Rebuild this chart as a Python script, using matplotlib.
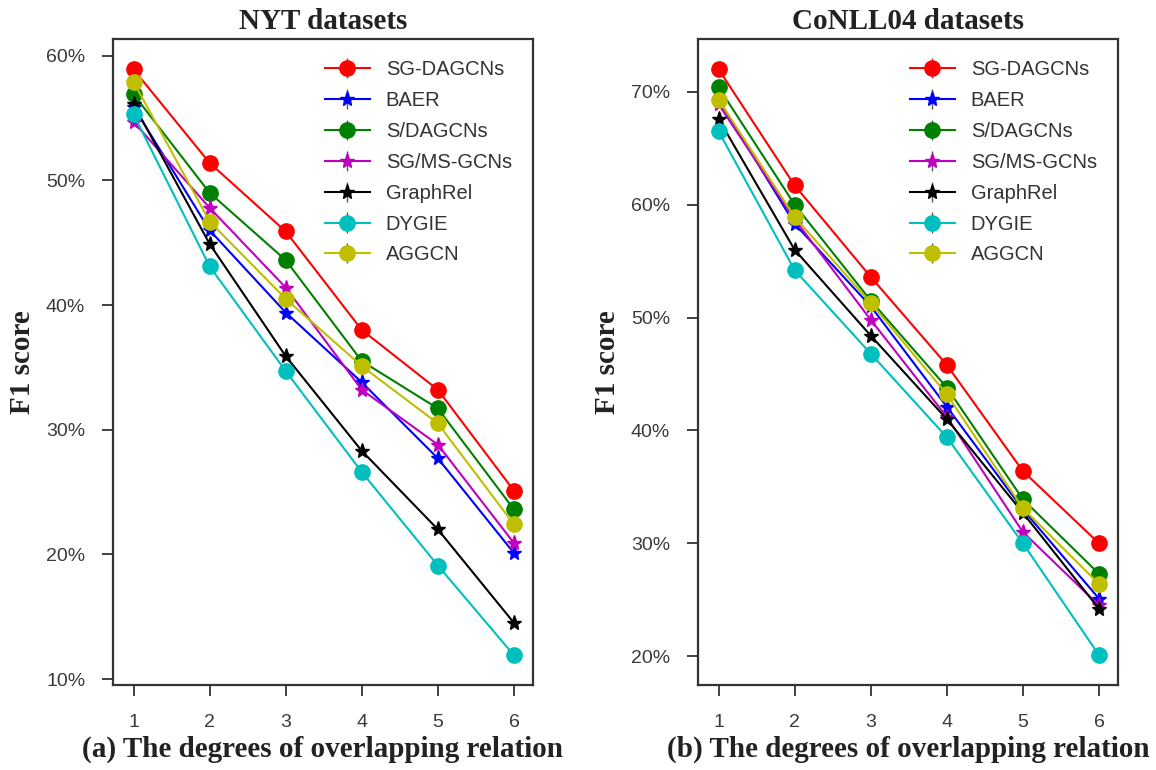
import matplotlib
matplotlib.use("Agg")
import matplotlib.pyplot as plt
from matplotlib.ticker import FuncFormatter

x = [1, 2, 3, 4, 5, 6]
methods = ["SG-DAGCNs", "BAER", "S/DAGCNs", "SG/MS-GCNs", "GraphRel", "DYGIE", "AGGCN"]
colors = ["r", "b", "g", "m", "k", "c", "y"]
markers = ["o", "*", "o", "*", "*", "o", "o"]

nyt_sg_dagcns = [58.9, 51.4, 45.9, 38.0, 33.2, 25.1]
nyt_baer = [55.9, 46.0, 39.4, 33.8, 27.7, 20.1]
nyt_s_dagcns = [56.9, 49.0, 43.6, 35.5, 31.7, 23.6]
nyt_sg_ms_gcns = [54.7, 47.8, 41.4, 33.2, 28.8, 20.9]
nyt_graphrel = [56.1, 44.9, 35.9, 28.3, 22.0, 14.5]
nyt_dygie = [55.3, 43.1, 34.7, 26.6, 19.1, 11.9]
nyt_aggcn = [57.9, 46.7, 40.5, 35.1, 30.5, 22.4]

conll_sg_dagcns = [72.0, 61.7, 53.6, 45.8, 36.4, 30.0]
conll_baer = [69.3, 58.3, 51.0, 42.1, 33.0, 25.1]
conll_s_dagcns = [70.4, 60.0, 51.5, 43.8, 33.9, 27.3]
conll_sg_ms_gcns = [68.9, 58.7, 49.8, 41.2, 31.0, 24.5]
conll_graphrel = [67.6, 56.0, 48.4, 41.0, 32.7, 24.2]
conll_dygie = [66.5, 54.2, 46.8, 39.4, 30.0, 20.1]
conll_aggcn = [69.3, 58.9, 51.3, 43.2, 33.1, 26.4]

nyt = [nyt_sg_dagcns, nyt_baer, nyt_s_dagcns, nyt_sg_ms_gcns, nyt_graphrel, nyt_dygie, nyt_aggcn]
conll = [conll_sg_dagcns, conll_baer, conll_s_dagcns, conll_sg_ms_gcns, conll_graphrel, conll_dygie, conll_aggcn]

nyt_yticks = [10, 20, 30, 40, 50, 60]
conll_yticks = [20, 30, 40, 50, 60, 70]

fig = plt.figure(figsize=(11.56, 7.70), dpi=100)
ax1 = fig.add_axes([113/1156, 85/770, 420/1156, 646/770])
ax2 = fig.add_axes([698/1156, 85/770, 420/1156, 646/770])

serif = ["Liberation Serif", "DejaVu Serif"]
sans = ["Liberation Sans", "DejaVu Sans"]
spine_col = "#333333"

def draw(ax, data, yticks, ylim, title, xlabel):
    for vals, lab, c, m in zip(data, methods, colors, markers):
        ax.errorbar(x, vals, yerr=[0]*len(vals), color=c, marker=m, markersize=11,
                    linewidth=1.5, ecolor="0.35", elinewidth=1.0, capsize=0, label=lab)
    ax.set_xlim(0.73, 6.25)
    ax.set_ylim(*ylim)
    ax.set_xticks(x)
    ax.set_yticks(yticks)
    ax.yaxis.set_major_formatter(FuncFormatter(lambda v, p: f"{int(round(v))}%"))
    for s in ax.spines.values():
        s.set_color(spine_col)
        s.set_linewidth(1.6)
    ax.tick_params(axis="both", direction="out", length=8, width=1.3, color=spine_col,
                   labelcolor="#3a3a3a", labelsize=14)
    ax.tick_params(axis="y", pad=12)
    ax.tick_params(axis="x", pad=13)
    for lbl in ax.get_xticklabels() + ax.get_yticklabels():
        lbl.set_family(sans)
    ax.set_title(title, fontsize=21, fontweight="bold", family=serif, color="#222222", pad=7)
    ax.set_xlabel(xlabel, fontsize=21, fontweight="bold", family=serif, color="#222222", labelpad=3)
    ax.set_ylabel("F1 score", fontsize=21, fontweight="bold", family=serif, color="#222222", labelpad=7)
    leg = ax.legend(loc="upper right", frameon=False, prop={"family": sans, "size": 14.5},
                    handlelength=2.2, labelspacing=0.59, borderaxespad=0.65, handletextpad=0.8)
    for t in leg.get_texts():
        t.set_color("#333333")

draw(ax1, nyt, nyt_yticks, (9.52, 61.34), "NYT datasets", "(a) The degrees of overlapping relation")
draw(ax2, conll, conll_yticks, (17.45, 74.67), "CoNLL04 datasets", "(b) The degrees of overlapping relation")

fig.savefig("out.png", dpi=100)
